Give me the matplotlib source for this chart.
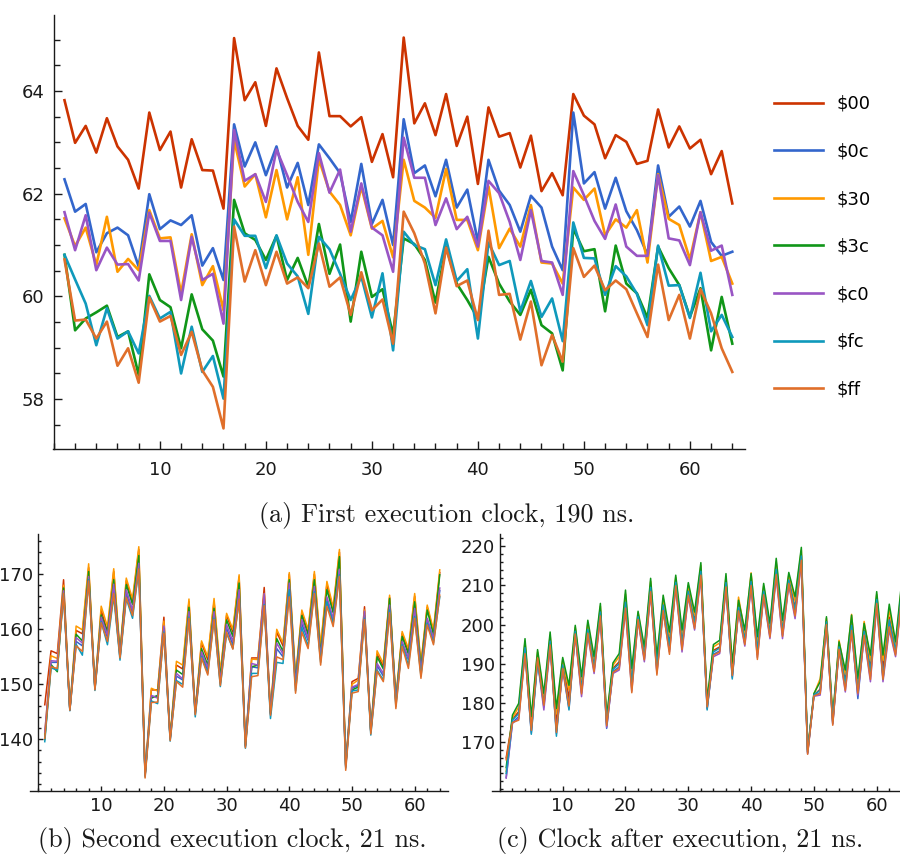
import matplotlib
matplotlib.use("Agg")
import matplotlib.pyplot as plt
from matplotlib.ticker import FixedLocator, MultipleLocator, NullFormatter
import numpy as np

# Iteration index 1..64 shared by all three panels
steps = np.arange(1, 65)

labels = ["$00", "$0c", "$30", "$3c", "$c0", "$fc", "$ff"]
colors = ["#cc3300", "#3366cc", "#ff9900", "#109618", "#9955c4", "#0f99bb", "#e06f2a"]

# (a) first execution clock, 190 ns
a_00 = [63.82, 62.99, 63.32, 62.80, 63.47, 62.92, 62.66, 62.10, 63.58, 62.85, 63.21, 62.12, 63.06, 62.46, 62.45, 61.71,
        65.03, 63.82, 64.17, 63.32, 64.44, 63.86, 63.32, 63.05, 64.75, 63.51, 63.51, 63.31, 63.49, 62.62, 63.16, 62.32,
        65.04, 63.37, 63.76, 63.14, 63.94, 62.93, 63.50, 62.19, 63.68, 63.11, 63.18, 62.51, 63.13, 62.05, 62.40, 61.97,
        63.94, 63.52, 63.35, 62.69, 63.14, 63.01, 62.58, 62.64, 63.64, 62.90, 63.31, 62.88, 63.05, 62.38, 62.83, 61.81]
a_0c = [62.28, 61.65, 61.80, 60.86, 61.23, 61.34, 61.19, 60.58, 61.99, 61.31, 61.48, 61.39, 61.58, 60.60, 60.94, 60.32,
        63.35, 62.53, 63.00, 62.36, 62.92, 62.12, 62.60, 61.78, 62.96, 62.69, 62.40, 61.45, 62.58, 61.41, 61.88, 61.00,
        63.45, 62.40, 62.55, 61.95, 62.66, 61.73, 62.08, 61.06, 62.66, 62.06, 61.78, 61.26, 61.96, 61.73, 60.97, 60.51,
        63.58, 62.20, 62.42, 61.71, 62.31, 61.66, 61.29, 60.81, 62.55, 61.55, 61.75, 61.36, 61.86, 61.06, 60.79, 60.87]
a_30 = [61.52, 60.98, 61.34, 60.61, 61.55, 60.48, 60.73, 60.51, 61.68, 61.13, 61.15, 60.06, 61.21, 60.22, 60.59, 59.73,
        63.05, 62.14, 62.38, 61.54, 62.46, 61.50, 62.32, 60.81, 62.67, 62.04, 61.78, 61.19, 62.14, 61.32, 61.47, 60.76,
        62.66, 61.86, 61.73, 61.53, 62.48, 61.49, 61.49, 60.90, 62.14, 60.94, 61.32, 60.97, 61.78, 60.66, 60.64, 60.25,
        62.12, 61.88, 62.10, 61.19, 61.50, 61.34, 61.68, 60.66, 62.38, 61.51, 61.39, 60.72, 61.64, 60.69, 60.77, 60.25]
a_3c = [60.81, 59.34, 59.57, 59.69, 59.82, 59.21, 59.32, 58.47, 60.43, 59.93, 59.79, 58.99, 60.04, 59.36, 59.14, 58.44,
        61.88, 61.23, 61.10, 60.71, 61.18, 60.32, 60.75, 60.19, 61.41, 60.44, 61.01, 59.51, 60.87, 59.99, 60.14, 59.25,
        61.13, 61.02, 60.71, 59.88, 60.97, 60.25, 59.93, 59.57, 60.77, 60.25, 59.90, 59.64, 60.13, 59.44, 59.28, 58.56,
        61.32, 60.88, 60.92, 59.71, 60.99, 60.25, 60.06, 59.58, 60.97, 60.55, 60.22, 59.60, 60.16, 58.95, 59.99, 59.08]
a_c0 = [61.64, 60.90, 61.58, 60.51, 60.95, 60.62, 60.63, 60.31, 61.63, 61.08, 61.08, 59.93, 61.16, 60.32, 60.44, 59.47,
        63.24, 62.25, 62.38, 61.84, 62.86, 62.36, 61.84, 61.45, 62.79, 62.02, 62.47, 61.26, 62.20, 61.34, 61.19, 60.48,
        63.09, 62.31, 62.31, 61.39, 61.91, 61.31, 61.55, 60.97, 62.25, 62.01, 61.45, 60.71, 61.68, 60.69, 60.66, 60.03,
        62.44, 61.97, 61.47, 61.12, 61.79, 60.97, 60.79, 60.79, 62.36, 61.13, 61.09, 60.61, 61.64, 60.89, 60.99, 60.03]
a_fc = [60.81, 60.33, 59.86, 59.05, 59.77, 59.18, 59.32, 58.89, 60.01, 59.57, 59.70, 58.50, 59.41, 58.53, 58.84, 58.01,
        61.50, 61.18, 61.18, 60.55, 61.19, 60.64, 60.39, 59.66, 61.16, 60.92, 60.44, 59.93, 60.39, 59.59, 60.45, 58.95,
        61.26, 61.00, 60.92, 60.22, 61.11, 60.30, 60.53, 59.18, 61.05, 60.61, 60.69, 59.71, 60.30, 59.60, 59.96, 59.13,
        61.44, 60.75, 60.74, 60.03, 60.59, 60.39, 60.05, 59.44, 60.99, 60.21, 60.22, 59.58, 60.46, 59.32, 59.64, 59.21]
a_ff = [60.72, 59.53, 59.55, 59.18, 59.51, 58.65, 58.99, 58.32, 59.98, 59.51, 59.62, 58.86, 59.31, 58.56, 58.24, 57.43,
        61.36, 60.29, 60.90, 60.22, 60.87, 60.25, 60.37, 60.16, 61.03, 60.19, 60.37, 59.64, 60.47, 59.73, 59.94, 59.08,
        61.65, 61.23, 60.64, 59.67, 60.95, 60.20, 60.31, 59.54, 61.28, 60.03, 60.05, 59.16, 59.90, 58.66, 59.25, 58.73,
        60.94, 60.38, 60.60, 60.12, 60.31, 60.14, 59.67, 59.21, 60.62, 59.54, 60.03, 59.18, 60.14, 59.67, 58.99, 58.53]

# (b) second execution clock, 21 ns
b_00 = [146.3, 156.1, 155.6, 169.0, 145.5, 159.8, 159.2, 171.2, 149.4, 163.5, 159.5, 170.5, 155.6, 168.8, 165.0, 174.5,
        133.5, 149.0, 149.0, 162.2, 140.2, 153.5, 152.8, 165.0, 145.0, 157.5, 154.5, 165.0, 151.8, 162.5, 159.5, 169.5,
        139.0, 154.8, 154.8, 167.6, 145.0, 159.5, 157.0, 170.0, 151.0, 163.0, 159.6, 170.0, 156.5, 168.2, 163.6, 174.0,
        135.3, 150.5, 151.1, 164.1, 141.5, 155.5, 153.3, 165.8, 147.2, 159.2, 156.0, 166.0, 153.5, 164.0, 159.5, 170.3]
b_0c = [140.5, 154.0, 154.0, 166.5, 145.3, 157.8, 157.0, 169.3, 149.1, 161.8, 158.5, 167.0, 154.8, 166.5, 163.0, 171.5,
        133.4, 147.8, 147.8, 160.0, 140.0, 151.5, 150.8, 162.6, 144.6, 155.6, 152.5, 162.8, 150.2, 160.2, 157.2, 166.5,
        138.7, 153.2, 153.0, 165.0, 144.6, 156.5, 155.0, 167.8, 149.8, 161.0, 158.0, 167.3, 154.5, 165.5, 161.5, 170.5,
        135.0, 149.3, 149.8, 163.0, 141.3, 153.4, 151.5, 164.0, 146.5, 157.5, 154.5, 163.3, 152.0, 161.8, 158.0, 167.0]
b_30 = [141.0, 155.2, 154.7, 168.0, 145.6, 160.6, 159.9, 171.9, 149.5, 164.2, 160.5, 171.0, 156.0, 169.3, 165.5, 175.0,
        133.8, 149.3, 148.8, 161.5, 140.5, 154.2, 153.5, 165.5, 145.2, 157.9, 155.0, 165.6, 152.2, 162.9, 160.0, 169.9,
        139.0, 154.6, 154.5, 166.5, 145.2, 160.0, 157.5, 170.3, 151.4, 163.5, 160.0, 170.5, 157.0, 168.7, 164.0, 174.5,
        135.5, 150.0, 150.8, 163.5, 141.7, 156.1, 153.8, 166.2, 147.5, 159.6, 156.5, 166.5, 153.8, 164.4, 159.9, 170.8]
b_3c = [140.0, 153.6, 152.3, 167.5, 145.4, 159.1, 157.9, 170.5, 149.3, 162.6, 159.5, 169.0, 155.5, 168.1, 164.5, 173.4,
        133.6, 147.5, 148.0, 160.2, 140.3, 152.6, 151.8, 164.0, 145.0, 156.5, 153.5, 163.8, 151.2, 161.7, 158.7, 168.4,
        138.9, 153.2, 153.5, 165.5, 144.9, 158.3, 156.0, 169.0, 150.5, 162.5, 159.0, 169.0, 155.5, 167.2, 163.0, 173.2,
        135.3, 149.0, 149.5, 162.5, 141.5, 155.0, 152.8, 165.6, 147.0, 158.7, 155.5, 165.0, 153.0, 163.5, 159.0, 169.9]
b_c0 = [141.3, 154.3, 154.2, 167.0, 145.3, 158.5, 157.5, 169.6, 149.2, 162.2, 159.0, 168.2, 155.2, 167.2, 163.5, 172.0,
        133.5, 148.0, 147.5, 160.6, 140.1, 152.0, 151.0, 163.2, 144.8, 155.9, 153.0, 163.2, 150.5, 160.9, 157.8, 167.2,
        138.8, 153.8, 153.5, 166.5, 144.7, 157.5, 155.5, 168.4, 150.0, 161.8, 158.3, 167.8, 155.0, 165.9, 162.0, 170.9,
        135.1, 149.5, 150.0, 163.3, 141.4, 153.8, 152.0, 164.4, 146.8, 157.8, 154.8, 163.8, 152.5, 162.0, 158.3, 167.5]
b_fc = [139.6, 153.0, 152.6, 166.3, 145.2, 157.3, 155.3, 169.0, 148.9, 161.4, 157.2, 166.0, 154.4, 165.6, 162.0, 171.0,
        133.2, 147.0, 146.5, 159.5, 139.7, 150.7, 150.0, 162.2, 144.1, 155.0, 152.0, 162.0, 149.6, 159.3, 156.5, 165.3,
        138.4, 152.0, 152.0, 164.5, 143.8, 154.0, 153.8, 167.2, 148.8, 160.3, 157.0, 166.8, 154.0, 165.0, 161.0, 169.9,
        134.8, 148.8, 149.0, 162.0, 140.8, 152.6, 150.8, 163.5, 146.0, 157.2, 153.5, 162.3, 151.5, 161.1, 157.5, 165.9]
b_ff = [140.2, 153.2, 152.9, 166.5, 145.3, 157.0, 156.0, 168.8, 149.0, 161.2, 157.8, 166.5, 154.8, 165.8, 162.5, 171.0,
        133.0, 146.7, 146.8, 159.3, 139.8, 150.5, 149.5, 162.0, 144.5, 154.8, 151.7, 161.8, 149.8, 159.5, 156.4, 165.5,
        138.5, 151.4, 151.6, 164.3, 144.4, 155.0, 154.5, 165.9, 148.4, 159.5, 156.5, 166.5, 153.5, 164.2, 160.5, 169.6,
        134.4, 148.4, 148.7, 161.8, 141.0, 152.4, 150.5, 163.0, 145.6, 156.9, 152.9, 162.0, 151.1, 160.8, 157.2, 166.2]

# (c) clock after execution, 21 ns
c_00 = [166.0, 175.8, 177.8, 194.5, 174.2, 192.0, 180.3, 196.2, 175.0, 190.0, 181.3, 198.5, 184.1, 199.2, 189.6, 203.6,
        175.0, 188.8, 190.5, 206.2, 185.7, 202.2, 192.4, 209.8, 189.5, 205.3, 195.2, 211.1, 195.8, 208.9, 200.9, 214.0,
        179.4, 193.4, 194.3, 211.1, 188.1, 204.7, 196.5, 211.3, 194.0, 208.8, 198.4, 214.5, 198.8, 211.7, 204.3, 217.8,
        167.4, 182.0, 183.5, 200.9, 175.4, 194.5, 185.6, 200.3, 183.7, 198.6, 188.8, 206.7, 188.8, 201.9, 193.7, 209.2]
c_0c = [161.0, 175.0, 176.5, 193.4, 172.9, 191.1, 179.0, 195.1, 172.8, 189.0, 179.5, 197.8, 182.6, 198.1, 188.4, 202.5,
        173.5, 188.0, 189.2, 204.7, 183.8, 201.6, 191.3, 208.7, 188.0, 204.0, 193.6, 210.2, 194.1, 207.8, 199.5, 212.9,
        178.7, 192.4, 193.3, 210.0, 186.9, 203.8, 195.3, 210.3, 192.3, 207.8, 197.2, 213.1, 197.3, 210.7, 202.6, 216.7,
        167.2, 181.8, 182.6, 200.2, 174.7, 193.8, 184.0, 199.0, 181.1, 197.6, 186.8, 205.7, 186.8, 199.9, 192.6, 207.9]
c_30 = [162.5, 176.2, 179.0, 195.6, 175.6, 193.0, 181.6, 197.3, 177.2, 191.0, 183.2, 199.3, 185.7, 200.3, 191.0, 204.7,
        176.0, 189.6, 191.8, 207.8, 187.6, 203.0, 193.5, 211.0, 190.8, 206.6, 197.0, 212.0, 197.5, 210.0, 202.3, 215.1,
        180.2, 194.3, 195.3, 212.2, 189.3, 207.0, 197.8, 213.2, 195.7, 209.8, 199.5, 216.0, 200.2, 212.7, 206.0, 219.0,
        167.8, 182.2, 186.2, 201.6, 176.1, 196.0, 187.3, 202.6, 185.2, 200.8, 190.8, 207.7, 190.8, 203.9, 194.8, 210.4]
c_3c = [163.5, 176.9, 179.9, 196.4, 176.5, 193.6, 182.4, 198.1, 178.6, 191.6, 184.5, 199.8, 186.7, 201.1, 191.8, 205.4,
        176.5, 190.2, 192.6, 208.8, 188.8, 203.4, 194.3, 211.8, 191.8, 207.5, 198.1, 212.6, 198.6, 210.7, 203.2, 215.8,
        180.7, 194.9, 196.0, 213.0, 190.1, 206.2, 198.6, 213.0, 196.9, 210.5, 200.3, 216.9, 201.1, 213.3, 207.1, 219.7,
        168.0, 182.4, 185.4, 202.0, 176.5, 195.6, 188.4, 202.4, 186.2, 200.3, 192.2, 208.4, 192.2, 205.2, 195.6, 211.3]
c_c0 = [160.8, 174.8, 176.0, 192.8, 172.3, 190.6, 178.2, 194.3, 172.2, 188.4, 178.5, 197.3, 181.6, 197.3, 187.5, 201.8,
        173.8, 187.5, 188.4, 203.7, 183.0, 201.1, 190.5, 207.9, 187.6, 203.2, 193.0, 209.6, 193.0, 207.1, 198.6, 212.2,
        178.5, 191.8, 192.6, 209.2, 186.5, 203.2, 194.5, 209.6, 191.6, 207.1, 196.4, 212.2, 196.4, 210.1, 201.5, 216.0,
        167.0, 181.7, 182.0, 199.8, 174.6, 193.5, 182.8, 198.1, 182.0, 196.9, 185.4, 205.0, 185.4, 198.6, 191.8, 207.0]
c_fc = [162.0, 175.6, 177.3, 194.1, 172.0, 190.5, 179.9, 195.8, 171.5, 189.7, 178.2, 198.3, 183.6, 198.8, 189.2, 203.2,
        174.5, 188.5, 190.0, 205.7, 185.0, 202.0, 192.0, 209.5, 189.0, 205.0, 194.7, 210.8, 195.2, 208.5, 200.4, 213.6,
        178.2, 193.0, 194.0, 210.7, 186.1, 204.4, 196.1, 211.0, 193.4, 208.5, 198.0, 214.1, 198.3, 211.4, 203.7, 217.5,
        167.5, 182.1, 183.2, 200.7, 175.2, 194.3, 185.0, 199.8, 183.2, 198.3, 188.1, 206.4, 186.1, 201.2, 193.3, 208.7]
c_ff = [165.5, 175.0, 175.6, 192.6, 173.0, 191.5, 179.4, 194.8, 172.5, 188.8, 179.2, 197.6, 182.3, 197.8, 188.0, 202.2,
        174.2, 187.8, 188.8, 204.2, 182.6, 201.3, 191.0, 208.4, 187.1, 203.6, 192.4, 209.9, 193.6, 207.5, 199.0, 212.6,
        179.0, 192.2, 193.0, 209.6, 187.0, 203.5, 194.9, 210.0, 191.1, 207.6, 196.8, 212.8, 197.0, 210.5, 202.2, 216.4,
        166.9, 181.8, 182.4, 200.0, 174.3, 193.7, 183.2, 198.5, 182.5, 197.3, 186.0, 205.4, 186.0, 199.4, 192.2, 207.5]

panel_a = [a_00, a_0c, a_30, a_3c, a_c0, a_fc, a_ff]
panel_b = [b_00, b_0c, b_30, b_3c, b_c0, b_fc, b_ff]
panel_c = [c_00, c_0c, c_30, c_3c, c_c0, c_fc, c_ff]

ink = "#1a1a1a"


def style_axes(ax, yticks, yminor, xlim, ylim, label_pad_x, label_pad_y, major_len, minor_len):
    """Sage-like axes: only left and bottom lines, inward ticks, y axis at x = 0."""
    ax.set_xlim(*xlim)
    ax.set_ylim(*ylim)
    for side in ("top", "right"):
        ax.spines[side].set_visible(False)
    ax.spines["left"].set_position(("data", 0))
    for side in ("left", "bottom"):
        ax.spines[side].set_color(ink)
        ax.spines[side].set_linewidth(1.0)
    ax.xaxis.set_major_locator(FixedLocator([10, 20, 30, 40, 50, 60]))
    ax.xaxis.set_minor_locator(MultipleLocator(2))
    ax.yaxis.set_major_locator(FixedLocator(yticks))
    ax.yaxis.set_minor_locator(MultipleLocator(yminor))
    ax.yaxis.set_minor_formatter(NullFormatter())
    ax.tick_params(which="both", direction="in", colors=ink, labelsize=13, width=1.0)
    ax.tick_params(which="major", length=major_len)
    ax.tick_params(which="minor", length=minor_len)
    ax.tick_params(axis="x", pad=label_pad_x)
    ax.tick_params(axis="y", pad=label_pad_y)


fig = plt.figure(figsize=(9, 8.55), dpi=100)

ax_a = fig.add_axes([0.0587, 0.4749, 0.7691, 0.5076])
for values, name, col in zip(panel_a, labels, colors):
    ax_a.plot(steps, values, color=col, lw=1.9, label=name)
style_axes(ax_a, [58, 60, 62, 64], 0.5, (-0.1, 65.2), (57.03, 65.48), 8.5, 6.5, 5.8, 4.0)

leg = fig.legend(loc="upper left", bbox_to_anchor=(0.86, 0.889), frameon=False,
                 fontsize=13, handlelength=2.7, handletextpad=0.76, labelspacing=1.64,
                 borderpad=0, borderaxespad=0)
for line in leg.get_lines():
    line.set_linewidth(1.9)

ax_b = fig.add_axes([0.0333, 0.0752, 0.4641, 0.3002])
for values, col in zip(panel_b, colors):
    ax_b.plot(steps, values, color=col, lw=1.1)
style_axes(ax_b, [140, 150, 160, 170], 2, (-1.36, 65.26), (130.7, 177.3), 4.5, 3.6, 3.4, 2.2)

ax_c = fig.add_axes([0.5463, 0.0752, 0.4648, 0.3002])
for values, col in zip(panel_c, colors):
    ax_c.plot(steps, values, color=col, lw=1.1)
style_axes(ax_c, [170, 180, 190, 200, 210, 220], 2, (-1.31, 65.3), (157.6, 223.1), 4.5, 3.6, 3.4, 2.2)

caption_font = dict(family=["cmr10", "DejaVu Serif"], size=18.8, color=ink, ha="center", va="center")
fig.text(447 / 900, 1 - 515 / 855, "(a) First execution clock, 190 ns.", **caption_font)
fig.text(232 / 900, 1 - 840 / 855, "(b) Second execution clock, 21 ns.", **caption_font)
fig.text(680 / 900, 1 - 840 / 855, "(c) Clock after execution, 21 ns.", **caption_font)

fig.savefig("out.png", dpi=100)
